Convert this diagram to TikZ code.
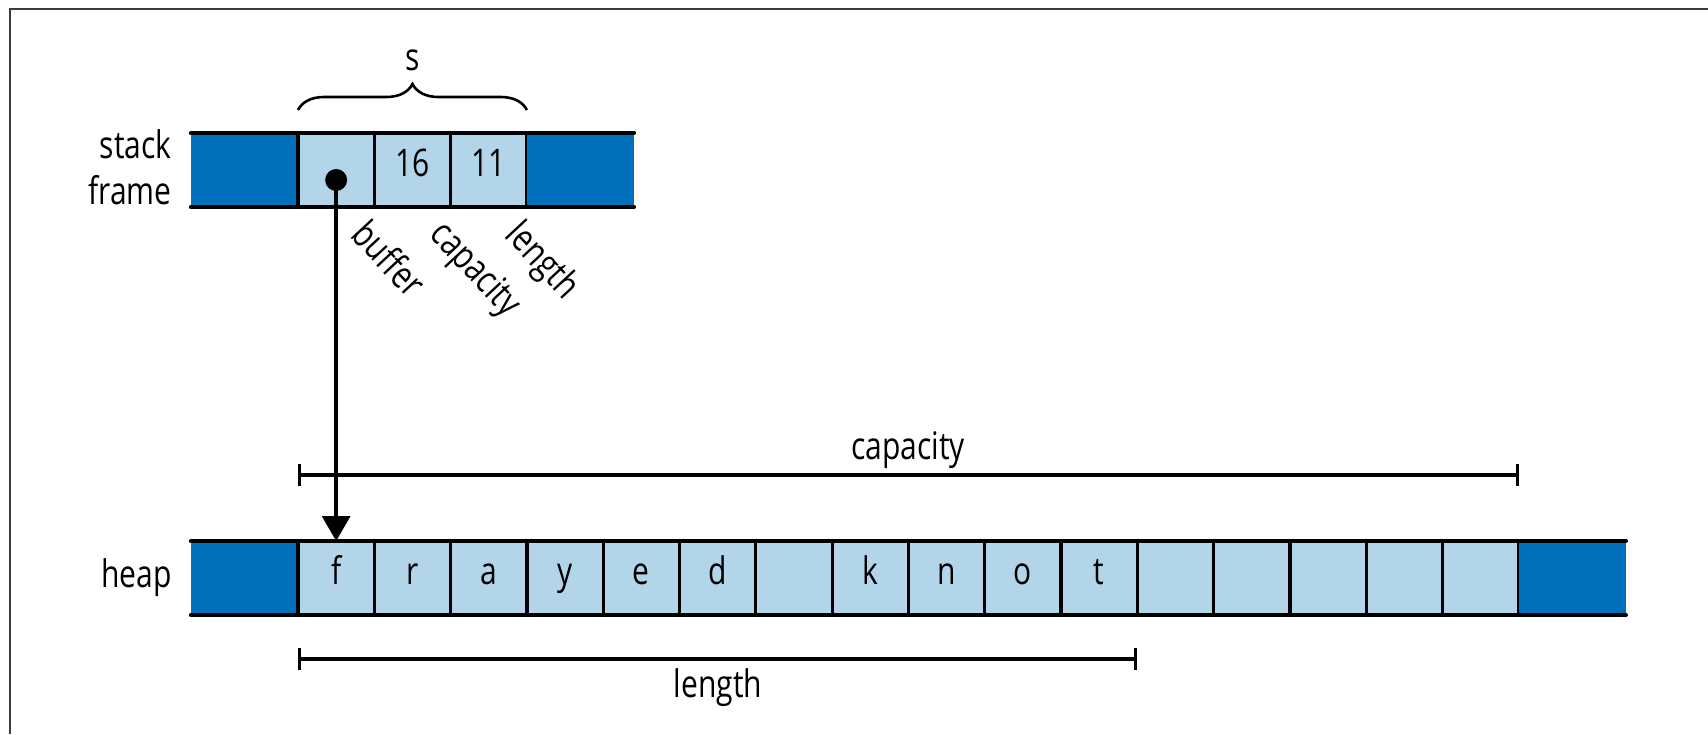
\documentclass[tikz,border=0pt]{standalone}
\usepackage{fontspec}
\setmainfont[FakeStretch=0.79]{Open Sans}
\usetikzlibrary{arrows.meta}
\usetikzlibrary{calc}
\usetikzlibrary{decorations.pathreplacing}

\begin{document}
\begin{tikzpicture}[x=0.5pt,y=0.5pt,yscale=-1,xscale=1,
  every node/.style={font=\fontsize{19}{23}\selectfont},
  cell/.style={draw=black,line width=1.6pt,fill={rgb, 255:red, 179; green, 213; blue, 233 },minimum width=38.15pt,minimum height=37pt,inner sep=0pt,outer sep=0pt,text height=1.5ex,text depth=0.3ex},
  darkblock/.style={fill={rgb, 255:red, 0; green, 112; blue, 186 },minimum width=53.5pt,minimum height=37pt,inner sep=0pt,outer sep=0pt},
  rowline/.style={line width=2.2pt,line cap=round},
  dimline/.style={line width=1.6pt,{Bar[width=11pt]}-{Bar[width=11pt]}},
  fieldlabel/.style={anchor=north west,rotate=-47,inner sep=0pt},
  pointer/.style={line width=1.8pt,-{Triangle[width=14pt,length=12.5pt]}},
  dotnode/.style={circle,fill=black,inner sep=0pt,minimum size=11pt},
  sbrace/.style={line width=1.3pt,decorate,decoration={brace,amplitude=13pt}}]
\useasboundingbox (0,0) rectangle (1708,734);

%Straight Lines
\draw [color={rgb, 255:red, 60; green, 60; blue, 60 },line width=1pt] (10,734) -- (10,9) -- (1708,9) ;

%Shape: Rectangle (stack frame)
\node [darkblock] (sdl) at (244.5,170) {};
\node [cell] (buf) at (336.15,170) {};
\node [cell] (cap) at (412.45,170) {16};
\node [cell] (len) at (488.75,170) {11};
\node [darkblock] (sdr) at (580.4,170) {};
\draw [rowline] (sdl.north west) -- (sdr.north east) ;
\draw [rowline] (sdl.south west) -- (sdr.south east) ;

%Shape: Rectangle (heap)
\node [darkblock] (hdl) at (244.5,578) {};
\node [cell] (h1) at (336.15,578) {f};
\node [cell] (h2) at (412.45,578) {r};
\node [cell] (h3) at (488.75,578) {a};
\node [cell] (h4) at (565.05,578) {y};
\node [cell] (h5) at (641.35,578) {e};
\node [cell] (h6) at (717.65,578) {d};
\node [cell] (h7) at (793.95,578) {};
\node [cell] (h8) at (870.25,578) {k};
\node [cell] (h9) at (946.55,578) {n};
\node [cell] (h10) at (1022.85,578) {o};
\node [cell] (h11) at (1099.15,578) {t};
\node [cell] (h12) at (1175.45,578) {};
\node [cell] (h13) at (1251.75,578) {};
\node [cell] (h14) at (1328.05,578) {};
\node [cell] (h15) at (1404.35,578) {};
\node [cell] (h16) at (1480.65,578) {};
\node [darkblock] (hdr) at (1572.3,578) {};
\draw [rowline] (hdl.north west) -- (hdr.north east) ;
\draw [rowline] (hdl.south west) -- (hdr.south east) ;

%Curve Lines (brace)
\draw [sbrace] ($(buf.north west)+(0,-23)$) -- ($(len.north east)+(0,-23)$) ;

%Straight Lines (pointer)
\node [dotnode] (ptr) at (336.15,180) {};
\draw [pointer] (ptr.center) -- (h1.north) ;

%Straight Lines (dimensions)
\coordinate (capl) at (298,475);
\coordinate (capr) at (1518.8,475);
\draw [dimline] (capl) -- (capr) ;
\coordinate (lenl) at (298,659);
\coordinate (lenr) at (1137.3,659);
\draw [dimline] (lenl) -- (lenr) ;

% Text Node
\node [anchor=east,align=right,inner sep=0pt] (stk) at (172,167) {stack\\frame};
% Text Node
\node [anchor=east,inner sep=0pt] (hp) at (172,578) {heap};
% Text Node
\node (s) at (413,60) {s};
% Text Node
\node (capt) at (908,450) {capacity};
% Text Node
\node (lent) at (718,688) {length};
% Text Node
\node [fieldlabel] (lbuf) at (371,216) {buffer};
% Text Node
\node [fieldlabel] (lcap) at (449,216) {capacity};
% Text Node
\node [fieldlabel] (llen) at (525,216) {length};

\end{tikzpicture}
\end{document}
